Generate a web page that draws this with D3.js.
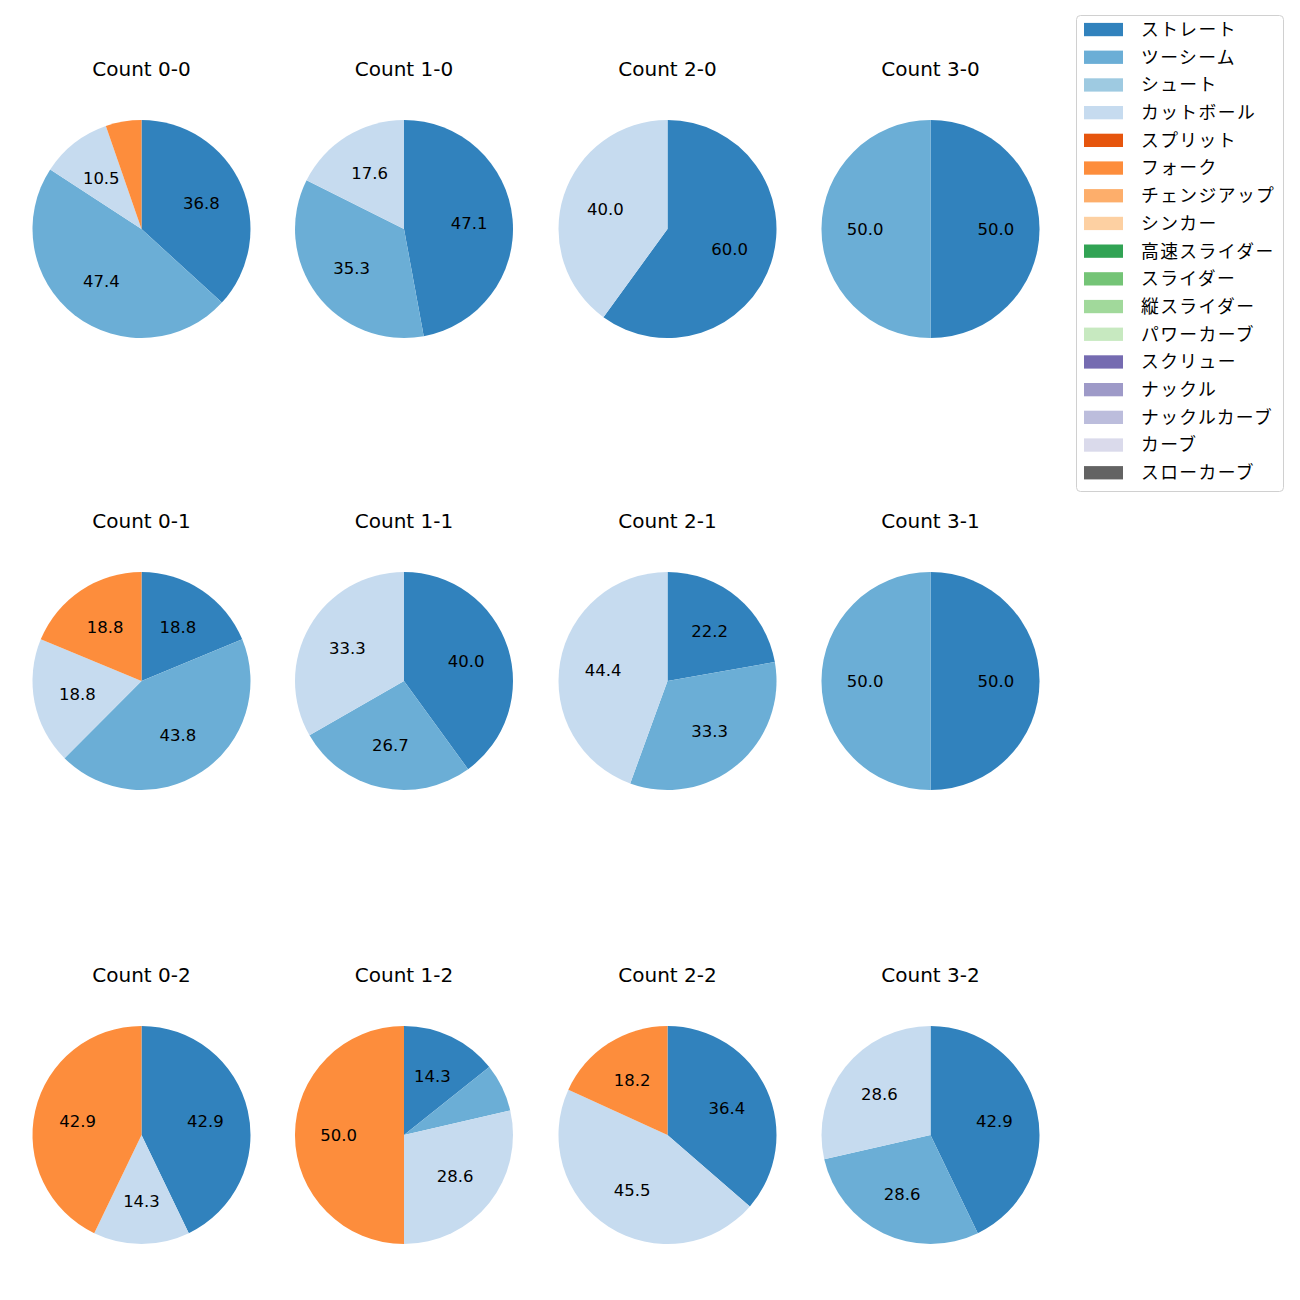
<!DOCTYPE html>
<html>
<head>
<meta charset="utf-8">
<script src="https://cdn.jsdelivr.net/npm/d3@7"></script>
<style>
  html, body { margin: 0; padding: 0; background: #fff; }
  svg { display: block; font-family: "DejaVu Sans", "Noto Sans CJK JP", sans-serif; }
</style>
</head>
<body>
<svg id="chart" width="1300" height="1300"></svg>
<script>
// ---- data ----
const pitchTypes = ["ストレート","ツーシーム","シュート","カットボール","スプリット","フォーク","チェンジアップ","シンカー","高速スライダー","スライダー","縦スライダー","パワーカーブ","スクリュー","ナックル","ナックルカーブ","カーブ","スローカーブ"];
const pitchColors = ["#3182bd","#6baed6","#9ecae1","#c6dbef","#e6550d","#fd8d3c","#fdae6b","#fdd0a2","#31a354","#74c476","#a1d99b","#c7e9c0","#756bb1","#9e9ac8","#bcbddc","#dadaeb","#636363"];
const countTitles = ["Count 0-0","Count 1-0","Count 2-0","Count 3-0","Count 0-1","Count 1-1","Count 2-1","Count 3-1","Count 0-2","Count 1-2","Count 2-2","Count 3-2"];
// percentages per count, keyed by pitch type (legend order = clockwise order)
const share00 = {"ストレート":36.8,"ツーシーム":47.4,"カットボール":10.5,"フォーク":5.3};
const share10 = {"ストレート":47.1,"ツーシーム":35.3,"カットボール":17.6};
const share20 = {"ストレート":60.0,"カットボール":40.0};
const share30 = {"ストレート":50.0,"ツーシーム":50.0};
const share01 = {"ストレート":18.8,"ツーシーム":43.8,"カットボール":18.8,"フォーク":18.8};
const share11 = {"ストレート":40.0,"ツーシーム":26.7,"カットボール":33.3};
const share21 = {"ストレート":22.2,"ツーシーム":33.3,"カットボール":44.4};
const share31 = {"ストレート":50.0,"ツーシーム":50.0};
const share02 = {"ストレート":42.9,"カットボール":14.3,"フォーク":42.9};
const share12 = {"ストレート":14.3,"ツーシーム":7.1,"カットボール":28.6,"フォーク":50.0};
const share22 = {"ストレート":36.4,"カットボール":45.5,"フォーク":18.2};
const share32 = {"ストレート":42.9,"ツーシーム":28.6,"カットボール":28.6};
const countShares = [share00,share10,share20,share30,share01,share11,share21,share31,share02,share12,share22,share32];
const labelThreshold = 10;

// ---- layout ----
const svg = d3.select("#chart");
const colX = [141.5, 404, 667.5, 930.5];
const rowY = [229, 681, 1135];
const radius = 109;
const color = d3.scaleOrdinal().domain(pitchTypes).range(pitchColors);
const pie = d3.pie().sort(null).value(d => d.value).startAngle(0).endAngle(2 * Math.PI);
const arc = d3.arc().innerRadius(0).outerRadius(radius);
const labelArc = d3.arc().innerRadius(radius * 0.6).outerRadius(radius * 0.6);

countShares.forEach((shares, i) => {
  const cx = colX[i % 4], cy = rowY[Math.floor(i / 4)];
  const data = pitchTypes.filter(p => shares[p] !== undefined).map(p => ({type: p, value: shares[p]}));
  const g = svg.append("g").attr("transform", `translate(${cx},${cy})`);
  const arcs = pie(data);
  g.selectAll("path").data(arcs).join("path")
    .attr("d", arc)
    .attr("fill", d => color(d.data.type));
  g.selectAll("text.val").data(arcs.filter(d => d.data.value >= labelThreshold)).join("text")
    .attr("class", "val")
    .attr("transform", d => `translate(${labelArc.centroid(d)})`)
    .attr("text-anchor", "middle")
    .attr("dy", "0.37em")
    .attr("font-size", "16.5px")
    .attr("fill", "#000")
    .text(d => d.data.value.toFixed(1));
  svg.append("text")
    .attr("x", cx).attr("y", cy - 153)
    .attr("text-anchor", "middle")
    .attr("font-size", "20px")
    .attr("fill", "#000")
    .text(countTitles[i]);
});

// ---- legend ----
const lg = svg.append("g").attr("transform", "translate(1076,15)");
lg.append("rect").attr("x", 0.5).attr("y", 0.5).attr("width", 207).attr("height", 476)
  .attr("rx", 4).attr("fill", "#fff").attr("stroke", "#d0d0d0");
const rowStep = 27.7;
pitchTypes.forEach((p, k) => {
  const y = 14.5 + k * rowStep;
  lg.append("rect").attr("x", 8).attr("y", y - 6.6).attr("width", 39).attr("height", 13.3).attr("fill", color(p));
  lg.append("text").attr("x", 65).attr("y", y).attr("dy", "0.36em")
    .attr("font-family", "'Noto Sans CJK JP', sans-serif")
    .attr("font-size", "17.8px").attr("letter-spacing", "1.4px").attr("fill", "#000").text(p);
});
</script>
</body>
</html>
